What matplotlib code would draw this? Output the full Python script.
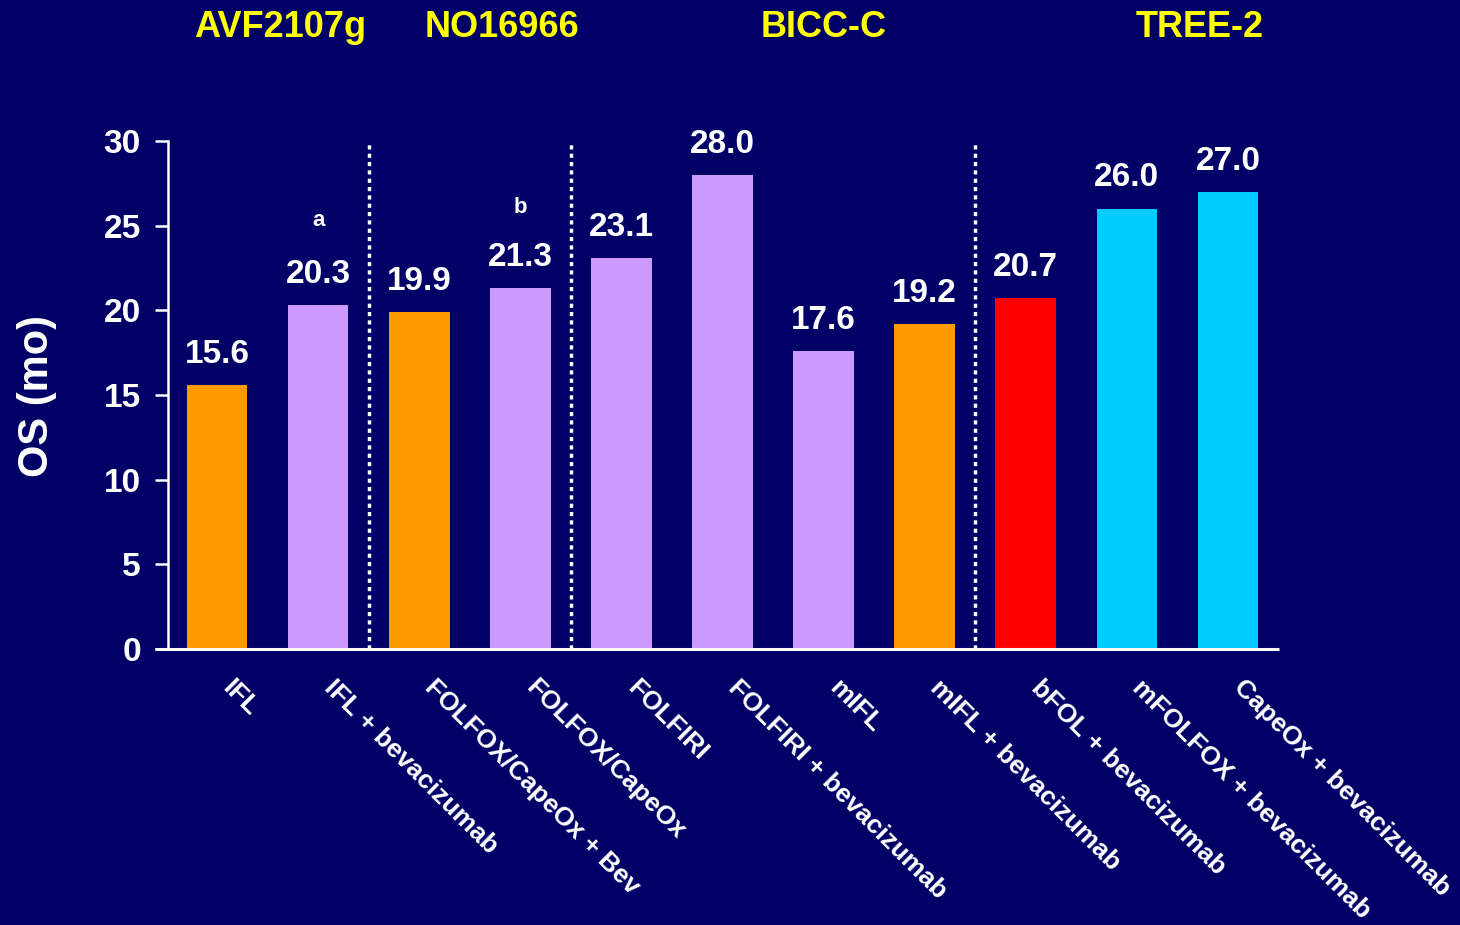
import matplotlib
matplotlib.use("Agg")
import matplotlib.pyplot as plt
from matplotlib import transforms

categories = ["IFL", "IFL + bevacizumab", "FOLFOX/CapeOx + Bev", "FOLFOX/CapeOx",
              "FOLFIRI", "FOLFIRI + bevacizumab", "mIFL", "mIFL + bevacizumab",
              "bFOL + bevacizumab", "mFOLFOX + bevacizumab", "CapeOx + bevacizumab"]
os_months = [15.6, 20.3, 19.9, 21.3, 23.1, 28.0, 17.6, 19.2, 20.7, 26.0, 27.0]
value_labels = ["15.6", "20.3", "19.9", "21.3", "23.1", "28.0", "17.6", "19.2", "20.7", "26.0", "27.0"]
bar_colors = ["#FF9900", "#CC99FF", "#FF9900", "#CC99FF", "#CC99FF", "#CC99FF",
              "#CC99FF", "#FF9900", "#FF0000", "#00CCFF", "#00CCFF"]
studies = ["AVF2107g", "NO16966", "BICC-C", "TREE-2"]
study_x = [0.62, 2.82, 6.0, 9.72]
separators = [1.5, 3.5, 7.5]
footnotes = {1: "a", 3: "b"}
footnote_y = {1: 25.3, 3: 26.1}
yticks = [0, 5, 10, 15, 20, 25, 30]

BG = "#000066"
plt.rcParams['font.family'] = ['Liberation Sans', 'DejaVu Sans']

fig = plt.figure(figsize=(14.6, 9.25), dpi=100, facecolor=BG)
ax = fig.add_axes([0.1151, 0.2984, 0.7609, 0.5492], facecolor=BG)

x = list(range(len(categories)))
ax.bar(x, os_months, width=0.6, color=bar_colors, zorder=3)

for xi, v, lab in zip(x, os_months, value_labels):
    ax.annotate(lab, (xi, v), xytext=(0, 16), textcoords="offset points",
                ha="center", va="baseline", color="white", fontsize=24,
                fontweight="bold")

for k, t in footnotes.items():
    ax.text(k, footnote_y[k], t, ha="center", va="center", color="white",
            fontsize=16, fontweight="bold")

for s in separators:
    ax.plot([s, s], [0, 30], color="white", lw=2.5, linestyle=(0, (1.2, 1.2)),
            zorder=2, clip_on=False)

ax.set_xlim(-0.485, 10.505)
ax.set_ylim(0, 30)
ax.set_yticks(yticks)
ax.set_yticklabels([str(t) for t in yticks], fontweight="bold")
ax.tick_params(axis="y", colors="white", labelsize=24, length=9.5, width=1.8, pad=10)

ax.set_xticks(x)
ax.set_xticklabels([])
ax.tick_params(axis="x", length=0)

for sp in ["top", "right", "bottom"]:
    ax.spines[sp].set_visible(False)
ax.spines["left"].set_color("white")
ax.spines["left"].set_linewidth(1.8)
ax.plot([-0.615, 10.505], [0, 0], color="white", lw=2.2, clip_on=False, zorder=4,
        solid_capstyle="butt")

for xi, c in zip(x, categories):
    ax.annotate(c, (xi, 0), xytext=(13, -19), textcoords="offset points",
                ha="left", va="top", rotation=-45, rotation_mode="anchor",
                color="white", fontsize=19, fontweight="bold")

fig.text(37 / 1460, 1 - 396 / 925, "OS (mo)", rotation=90, ha="center", va="center",
         color="white", fontsize=30, fontweight="bold")

title_tr = transforms.blended_transform_factory(ax.transData, fig.transFigure)
for st, sx in zip(studies, study_x):
    ax.text(sx, 1 - 37 / 925, st, transform=title_tr, ha="center", va="baseline",
            color="#FFFF00", fontsize=26, fontweight="bold")

fig.savefig("out.png", dpi=100, facecolor=BG)
